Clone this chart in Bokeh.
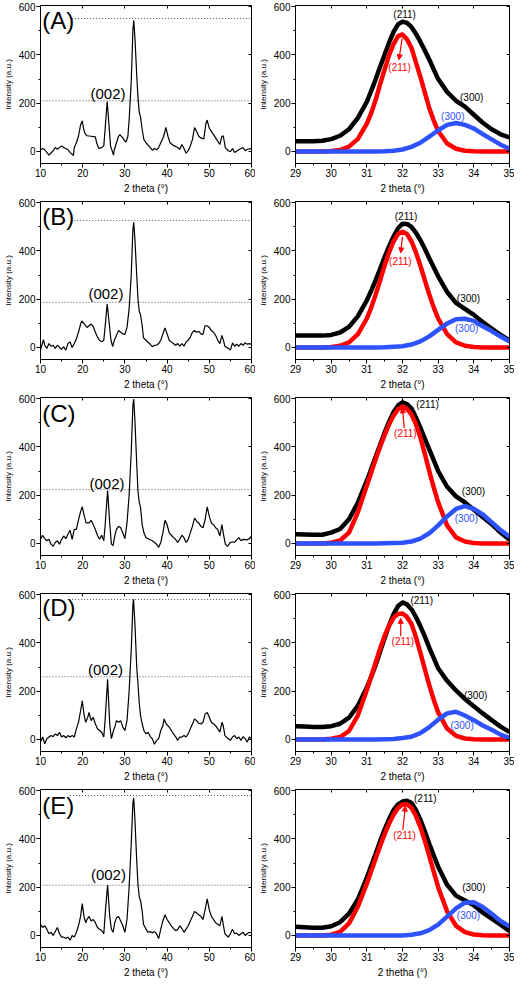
from bokeh.plotting import figure
from bokeh.layouts import gridplot
from bokeh.models import (LinearAxis, SingleIntervalTicker, Range1d, Arrow,
                          NormalHead, CustomJSTickFormatter)
from bokeh.core.properties import value
from bokeh.embed import file_html
from bokeh.resources import INLINE

FONT = "Liberation Sans"
BLUE = "#2f52ff"
RED = "#ff0000"

panel_names = ["A", "B", "C", "D", "E"]

# ---------------- left panels: full XRD patterns ----------------
xA = [10,10.5,11,12,13,13.5,14,15,15.5,16,16.5,17,17.8,18,18.5,19,19.5,19.9,20.2,20.5,21,22,23,23.3,23.8,24.5,25,25.3,25.8,26.2,26.6,27.3,27.5,28,28.5,28.8,29.5,30,30.3,30.7,31,31.5,31.9,32.1,32.4,32.8,33.1,33.4,33.7,34.1,34.5,35,36,36.5,37,37.5,38,38.5,39.2,39.7,40.2,40.7,41.5,42.5,43,43.5,44,44.5,45,45.5,46,46.5,47,47.5,48,48.7,49.2,49.5,50,50.5,51,52,52.5,53,53.3,53.8,54.5,55,55.5,56,57,58,58.5,59,60]
yA = [7,12,7,-15,3,16,9,23,16,12,7,-4,-17,16,36,63,110,127,96,76,65,63,60,36,13,16,23,90,207,116,23,-15,7,36,63,70,56,43,39,63,130,290,504,544,464,317,223,163,143,90,49,36,16,5,12,7,16,36,63,100,63,36,25,16,9,29,12,-7,3,23,49,99,83,63,56,52,116,130,96,83,70,43,29,63,65,16,3,-1,12,-4,7,16,3,9,12]

xB = [10,10.7,11,11.5,12,12.5,13,13.5,14,14.5,15,15.5,16,16.5,17,17.5,18,18.5,19,19.5,19.8,20.3,20.7,21,21.5,22,22.5,23,23.5,24,24.5,25,25.3,25.8,26.3,26.7,27.1,27.5,28,28.5,29,29.5,30,30.5,31,31.5,31.9,32.1,32.4,32.8,33.1,33.4,33.7,34.1,34.4,35,36,36.5,37,37.5,38,38.5,39,39.5,40,40.5,41,41.5,42,42.5,43,43.5,44,44.5,45,45.5,46,46.5,47,47.5,48,48.5,49,49.5,50,50.5,51,51.5,52,52.5,53,53.3,53.7,54.5,55,55.5,56,56.5,57,57.5,58,58.5,59,59.5,60]
yB = [-11,32,9,-4,16,5,9,-4,9,0,-8,3,-11,16,23,0,16,36,63,97,110,99,90,83,90,97,86,63,43,30,23,30,83,180,97,30,3,30,50,70,63,56,54,83,160,300,490,519,440,300,200,150,135,90,40,30,13,3,9,9,16,30,56,81,56,30,23,16,9,16,5,16,5,23,30,43,63,70,63,67,56,54,90,90,83,70,63,50,30,16,50,32,5,-4,-11,19,5,13,5,16,9,19,13,16,13]

xC = [10,10.5,11,11.5,12,12.5,13,13.5,14,14.5,15,15.5,16,16.5,17,17.5,18,18.5,19,19.5,19.9,20.4,20.8,21.5,22,22.5,23,23.5,24,24.5,25,25.3,25.9,26.4,26.8,27.2,27.6,28,28.5,29,29.5,30,30.5,31,31.5,31.9,32.1,32.4,32.8,33.1,33.4,33.7,34.1,34.5,35,36,36.5,37,37.5,38,38.5,39,39.5,40,40.5,41,41.5,42,42.5,43,43.5,44,44.5,45,45.5,46,46.5,47,47.5,48,48.5,49,49.5,50,50.5,51,51.5,52,52.5,53,53.3,53.8,54.3,55,55.5,56,56.5,57,57.5,58,59,59.5,60]
yC = [17,34,20,11,17,-3,-12,4,11,-3,17,31,20,38,55,17,58,58,98,132,152,112,85,85,96,78,58,34,17,34,11,71,219,85,-3,-9,31,58,71,65,44,20,85,200,380,575,598,500,330,215,170,150,78,44,24,15,11,4,-3,-16,4,44,96,78,44,34,24,17,4,17,34,24,4,17,44,71,105,92,85,71,65,98,152,112,85,78,65,58,31,78,44,-3,-12,4,7,4,15,24,11,17,15,20,31]

xD = [10,10.5,11,11.5,12,12.5,13,13.5,14,14.5,15,15.5,16,16.5,17,17.5,18,18.5,19,19.5,19.9,20.3,20.7,21.2,21.5,22,22.5,23,23.5,24,24.5,25,25.3,25.9,26.4,26.8,27.3,27.7,28,28.5,29,29.5,30,30.5,31,31.5,31.9,32.05,32.4,32.8,33.1,33.4,33.7,34.1,34.5,35,35.5,36,36.5,37,37.5,38,38.5,39,39.3,39.8,40.5,41,41.5,42,42.5,43,43.5,44,44.5,45,45.5,46,46.5,47,47.5,48,48.5,49,49.5,50,50.5,51,51.5,52,52.5,53,53.3,53.7,54.5,55,55.5,56,56.5,57,57.5,58,58.5,59,59.5,60]
yD = [-11,10,-18,3,10,16,12,23,16,30,10,16,7,16,10,16,10,44,71,119,160,105,71,92,112,78,92,64,44,37,30,10,78,249,64,3,37,57,78,71,78,51,37,78,200,370,560,581,470,300,230,150,100,64,37,23,30,12,3,-20,-4,3,37,57,85,64,51,37,23,12,-4,10,10,16,10,23,44,64,85,78,67,64,71,105,112,92,71,64,57,44,30,71,57,16,3,-4,10,16,3,10,-4,12,3,-11,10,3]

xE = [10,10.5,11,11.5,12,12.5,13,13.5,14,14.5,15,15.5,16,16.5,17,17.5,18,18.5,19,19.5,19.9,20.3,20.7,21,21.5,22,22.5,23,23.5,24,24.5,25,25.4,25.9,26.4,26.8,27.2,27.6,28,28.5,29,29.5,30,30.5,31,31.5,31.9,32.1,32.4,32.8,33.1,33.4,33.7,34.1,34.4,35,35.5,36,36.5,37,37.5,38,38.5,39,39.5,40,40.5,41,41.5,42,42.5,43,43.5,44,44.5,45,45.5,46,46.5,47,47.5,48,48.5,49,49.5,50,50.5,51,51.5,52,52.5,53,53.3,53.7,54.5,55,55.5,56,56.5,57,57.5,58,58.5,59,59.5,60]
yE = [46,33,40,26,7,13,0,16,33,7,-7,-7,-13,-7,-20,0,-7,13,40,79,132,79,53,66,79,60,66,53,33,26,20,7,106,209,79,26,13,53,73,79,60,40,13,66,200,380,550,570,470,310,210,160,145,100,46,26,13,16,10,16,7,-13,26,60,86,66,53,40,29,20,24,40,29,13,26,40,60,79,99,93,86,79,66,106,152,106,79,66,53,46,40,79,46,7,-7,7,26,7,10,0,7,13,0,7,13,10]

left_x = [xA, xB, xC, xD, xE]
left_y = [yA, yB, yC, yD, yE]

# dotted reference levels (y) and where they start (x); they end at 60
ref_levels = [[551, 210], [526, 187], [223], [580, 260], [580, 208]]
ref_starts = [[17.5, 10], [18, 10], [10], [17.5, 10], [17, 10]]
ref_end = 60

letter_pos = [(10.4, 543), (10.4, 543), (10.4, 540), (10.4, 545), (10.4, 537)]
lab002_pos = [(26.0, 239), (25.5, 224), (25.75, 249), (25.4, 292), (26.1, 252)]

# ---------------- right panels: peak fits 29-35 ----------------
# fine grid for the total (black) and (211) (red) curves
xf = [29,29.25,29.5,29.75,30,30.25,30.5,30.75,31,31.125,31.25,31.375,31.5,31.625,31.75,31.875,32,
      32.125,32.25,32.375,32.5,32.625,32.75,32.875,33,33.25,33.5,33.75,34,34.25,34.5,34.75,35]
# coarse grid for the (300) (blue) curves
xr = [29,29.25,29.5,29.75,30,30.25,30.5,30.75,31,31.25,31.5,31.75,32,32.25,32.5,32.75,33,33.25,33.5,33.75,34,34.25,34.5,34.75,35]

black_A = [42,42,42,44,51,65,92,139,206,252,300,352,402,452,496,527,538,533,516,488,455,419,381,340,300,247,210,186,152,119,92,71,58]
red_A   = [0,0,0,0,2,6,20,52,115,160,215,280,340,400,445,478,485,465,430,370,310,245,180,128,85,33,11,3,1,0,0,0,0]
blue_A  = [0,0,0,0,0,0,0,0,0,0,1,3,8,19,36,61,88,110,118,110,95,72,50,28,11]

black_B = [50,50,49,49,52,62,85,130,195,236,280,327,375,420,460,494,513,512,500,476,445,409,370,332,295,230,185,160,135,105,78,52,30]
red_B   = [0,0,0,0,2,7,21,55,120,166,220,279,340,395,440,470,480,470,440,395,340,279,220,166,120,55,21,7,2,0,0,0,0]
blue_B  = [0,0,0,0,0,0,0,0,0,0,1,3,5,12,25,46,73,99,117,119,110,88,68,45,25]

black_C = [38,37,36,36,45,60,100,170,260,310,360,410,460,505,545,572,585,578,560,523,480,435,390,345,300,235,195,170,140,110,80,45,15]
red_C   = [0,0,0,0,3,12,45,130,240,295,350,402,450,494,530,556,568,558,535,495,440,372,300,232,170,75,25,8,2,0,0,0,0]
blue_C  = [0,0,0,0,0,0,0,0,0,0,1,2,3,8,20,42,75,112,143,155,143,120,88,55,28]

black_D = [55,54,52,52,55,65,90,140,215,260,310,365,420,473,520,553,568,560,540,508,470,427,380,338,295,243,203,168,138,108,80,53,30]
red_D   = [0,0,0,0,3,10,35,100,205,262,320,378,430,472,505,520,522,508,480,425,360,292,225,165,112,45,15,4,1,0,0,0,0]
blue_D  = [0,0,0,0,0,0,0,0,0,0,1,2,6,11,26,51,82,108,115,99,80,58,40,20,6]

black_E = [36,34,32,32,38,55,90,150,240,290,340,392,440,483,520,543,555,558,550,520,480,432,380,332,285,210,165,145,125,95,70,45,18]
red_E   = [0,0,0,0,3,15,50,120,215,267,320,372,420,464,500,528,543,544,530,496,450,393,330,265,200,100,40,14,4,1,0,0,0]
blue_E  = [0,0,0,0,0,0,0,0,0,0,0,0,0,3,9,22,45,78,112,136,138,118,90,60,38]

blacks = [black_A, black_B, black_C, black_D, black_E]
reds = [red_A, red_B, red_C, red_D, red_E]
blues = [blue_A, blue_B, blue_C, blue_D, blue_E]

k211_pos = [(32.06, 567), (32.1, 542), (32.7, 576), (32.54, 575), (32.64, 567)]
r211_pos = [(31.92, 348), (31.94, 358), (32.08, 457), (32.01, 407), (32.06, 413)]
arrow_pos = [(31.99, 469, 31.9, 380), (32.0, 459, 31.95, 392), (32.05, 478, 32.0, 562),
             (31.95, 428, 31.95, 502), (32.01, 437, 32.08, 536)]
k300_pos = [(33.94, 224), (33.85, 204), (33.99, 215), (34.05, 182), (34.0, 199)]
b300_pos = [(33.41, 146), (33.8, 80), (33.79, 105), (33.67, 57), (33.85, 82)]

left_xlabel = "2 theta (°)"
right_xlabels = ["2 theta (°)", "2 theta (°)", "2 theta (°)", "2 theta (°)", "2 thetha (°)"]
ylabel = "Intensity (a.u.)"

Y_RANGE = (-50, 605)
ROW_H = 196


def style_axis(ax, xlab=False):
    ax.major_tick_out = 4
    ax.major_tick_in = 0
    ax.minor_tick_out = 2
    ax.minor_tick_in = 0
    ax.axis_line_color = "black"
    ax.major_tick_line_color = "black"
    ax.minor_tick_line_color = "black"
    ax.major_label_text_font = FONT
    ax.major_label_text_font_size = "10px"
    ax.major_label_text_color = "black"
    ax.major_label_standoff = 1
    ax.axis_label_text_font = FONT
    ax.axis_label_text_font_style = "normal"
    ax.axis_label_text_color = "black"
    ax.axis_label_standoff = 3
    ax.axis_label_text_font_size = "10px" if xlab else "8px"


def mirror_axes(p, xint):
    for loc, interval in (("above", xint), ("right", 200)):
        ax = LinearAxis(ticker=SingleIntervalTicker(interval=interval, num_minor_ticks=2),
                        formatter=CustomJSTickFormatter(code="return ''"),
                        major_tick_in=3, major_tick_out=0, minor_tick_in=0, minor_tick_out=0,
                        major_label_standoff=0, major_label_text_font_size="1px",
                        axis_line_color="black", major_tick_line_color="black")
        p.add_layout(ax, loc)


def base_fig(w, bl, br, xrange, xint, xlabel):
    p = figure(width=w, height=ROW_H, x_range=Range1d(*xrange), y_range=Range1d(*Y_RANGE),
               output_backend="svg", toolbar_location=None,
               min_border_left=bl, min_border_right=br, min_border_top=5, min_border_bottom=31)
    p.grid.visible = False
    p.outline_line_color = "black"
    p.background_fill_color = "white"
    p.border_fill_color = "white"
    p.xaxis[0].ticker = SingleIntervalTicker(interval=xint, num_minor_ticks=2)
    p.yaxis[0].ticker = SingleIntervalTicker(interval=200, num_minor_ticks=2)
    p.xaxis[0].axis_label = xlabel
    p.yaxis[0].axis_label = ylabel
    style_axis(p.xaxis[0], xlab=True)
    style_axis(p.yaxis[0], xlab=False)
    mirror_axes(p, xint)
    return p


rows = []
for i, name in enumerate(panel_names):
    # left
    pl = base_fig(255, 35, 4, (10, 60), 10, left_xlabel)
    levels = ref_levels[i]
    starts = ref_starts[i]
    pl.segment(x0=starts, y0=levels, x1=[ref_end] * len(levels), y1=levels,
               line_color="#555555", line_width=1, line_dash="1 2")
    pl.line(left_x[i], left_y[i], line_color="black", line_width=1.2)
    pl.text(x=[letter_pos[i][0]], y=[letter_pos[i][1]], text=["(" + name + ")"],
            text_font=value(FONT), text_font_size="24px", text_align="left",
            text_baseline="middle", text_color="black")
    pl.text(x=[lab002_pos[i][0]], y=[lab002_pos[i][1]], text=["(002)"],
            text_font=value(FONT), text_font_size="15px", text_align="center",
            text_baseline="middle", text_color="black")

    # right
    pr = base_fig(259, 38, 5, (29, 35), 1, right_xlabels[i])
    pr.line(xf, blacks[i], line_color="black", line_width=4.5, line_join="round")
    pr.line(xf, reds[i], line_color=RED, line_width=4.5, line_join="round")
    pr.line(xr, blues[i], line_color=BLUE, line_width=4.5, line_join="round")
    pr.text(x=[k211_pos[i][0], k300_pos[i][0]], y=[k211_pos[i][1], k300_pos[i][1]],
            text=["(211)", "(300)"], text_font=value(FONT), text_font_size="10px",
            text_align="center", text_baseline="middle", text_color="black")
    pr.text(x=[r211_pos[i][0]], y=[r211_pos[i][1]], text=["(211)"],
            text_font=value(FONT), text_font_size="10px", text_align="center",
            text_baseline="middle", text_color=RED)
    pr.text(x=[b300_pos[i][0]], y=[b300_pos[i][1]], text=["(300)"],
            text_font=value(FONT), text_font_size="10px", text_align="center",
            text_baseline="middle", text_color=BLUE)
    ax0, ay0, ax1, ay1 = arrow_pos[i]
    pr.add_layout(Arrow(end=NormalHead(size=5, line_color=RED, fill_color=RED),
                        x_start=ax0, y_start=ay0, x_end=ax1, y_end=ay1,
                        line_color=RED, line_width=1.2))
    rows.append([pl, pr])

grid = gridplot(rows, toolbar_location=None)
open("out.html", "w").write(file_html(grid, INLINE))
